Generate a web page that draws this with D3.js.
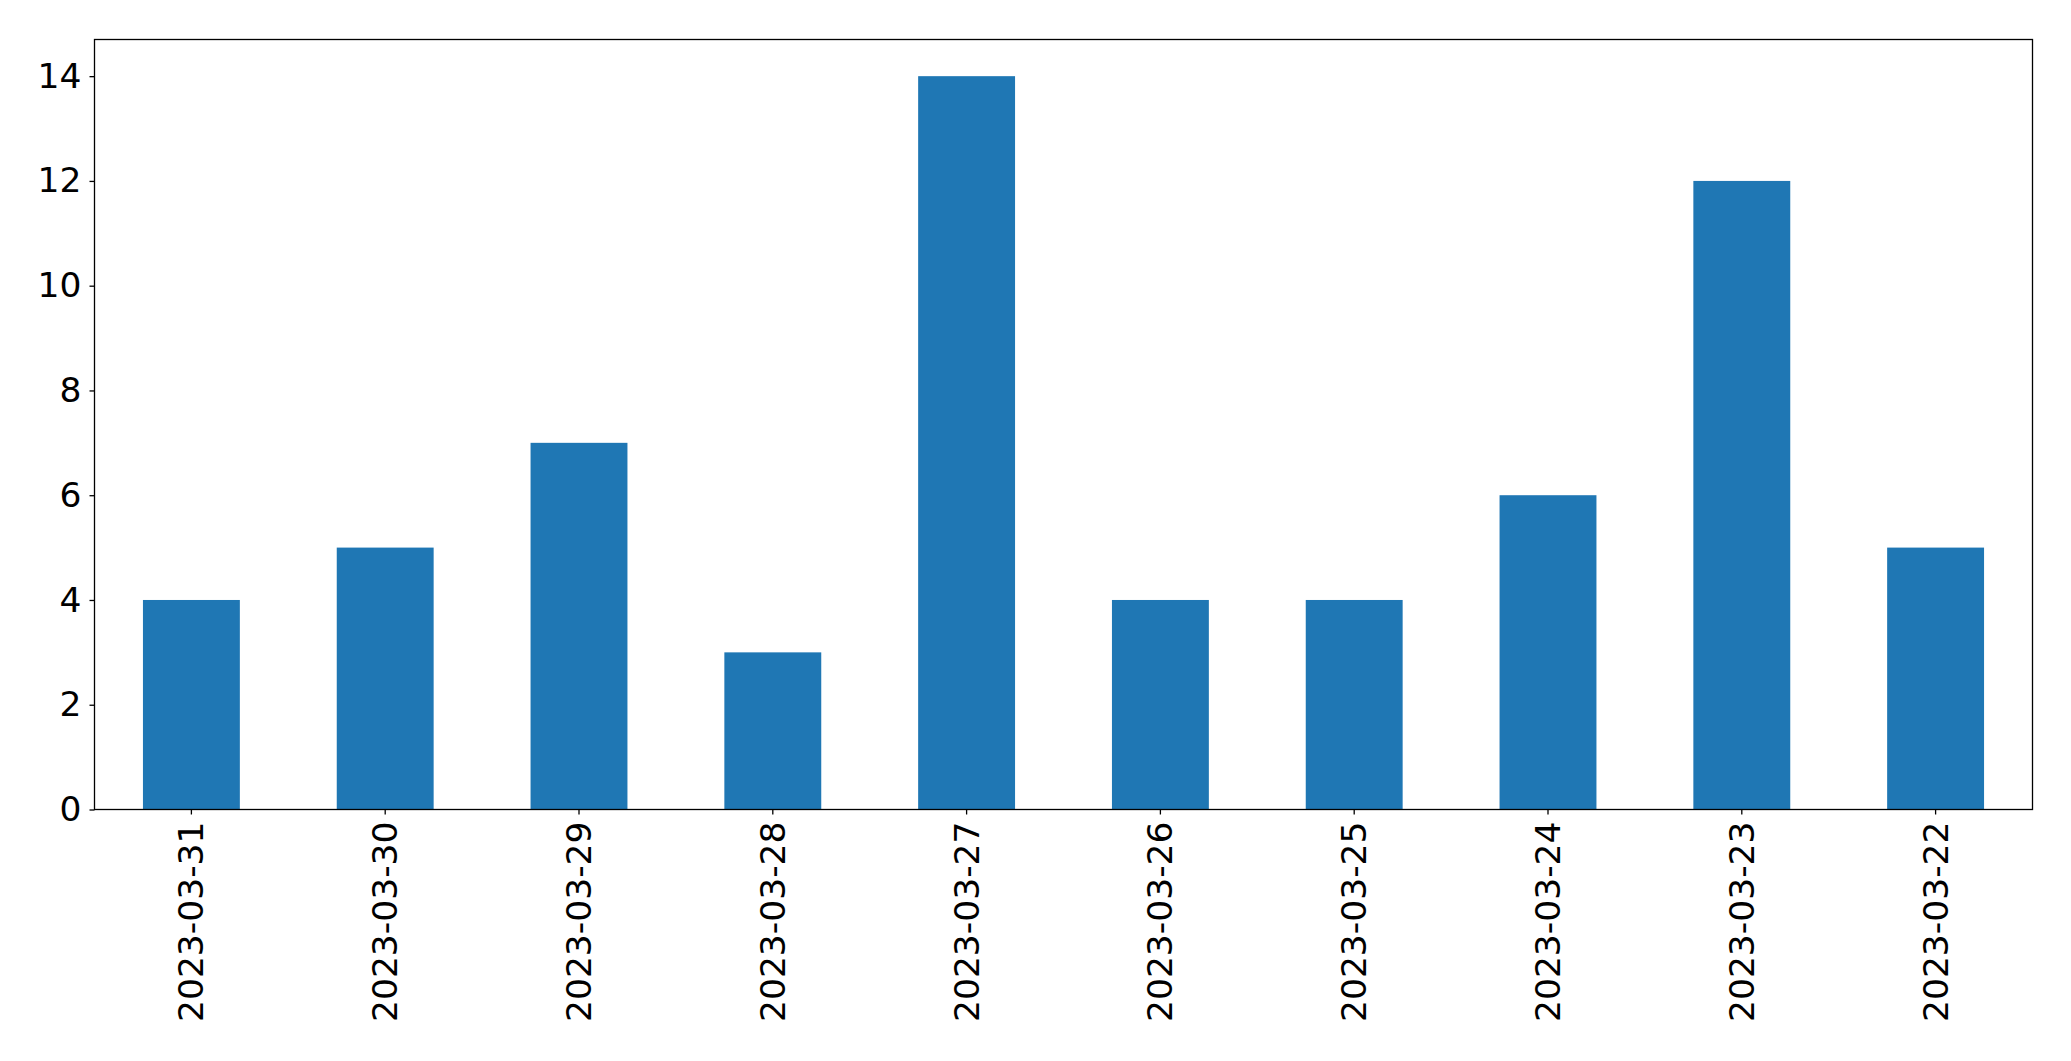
<!DOCTYPE html>
<html>
<head>
<meta charset="utf-8">
<script src="https://cdn.jsdelivr.net/npm/d3@7"></script>
<style>
    body { margin: 0; background: #fff; }
    svg { display: block; }
</style>
</head>
<body>
<script>
const categories = ['2023-03-31', '2023-03-30', '2023-03-29', '2023-03-28', '2023-03-27',
    '2023-03-26', '2023-03-25', '2023-03-24', '2023-03-23', '2023-03-22'];
const counts = [4, 5, 7, 3, 14, 4, 4, 6, 12, 5];
const yTicks = [0, 2, 4, 6, 8, 10, 12, 14];

const svgWidth = 2071;
const svgHeight = 1061;
const margin = { top: 39.5, bottom: 251.5, left: 94.5, right: 38.5 };
const width = svgWidth - margin.left - margin.right;
const height = svgHeight - margin.top - margin.bottom;
const font = 'DejaVu Sans, sans-serif';
const fontSize = '34.5px';

const svg = d3.select('body')
    .append('svg')
    .attr('width', svgWidth)
    .attr('height', svgHeight)
    .append('g')
    .attr('transform', `translate(${margin.left}, ${margin.top})`);

const x = d3.scaleBand()
    .domain(categories)
    .range([0, width])
    .paddingInner(0.5)
    .paddingOuter(0.25);

const y = d3.scaleLinear()
    .domain([0, 14.7])
    .range([height, 0]);

svg.selectAll('.bar')
    .data(counts)
    .enter()
    .append('rect')
    .attr('class', 'bar')
    .attr('x', (d, i) => x(categories[i]))
    .attr('y', d => y(d))
    .attr('width', x.bandwidth())
    .attr('height', d => height - y(d))
    .attr('fill', '#1f77b4');

// x axis
const xAxis = svg.append('g')
    .attr('transform', `translate(0,${height})`)
    .call(d3.axisBottom(x).tickSize(5).tickPadding(0));
xAxis.select('.domain').remove();
xAxis.selectAll('line').attr('stroke', '#000').attr('stroke-width', 1.3);
xAxis.selectAll('text')
    .attr('transform', 'rotate(-90)')
    .attr('x', -12)
    .attr('y', 0)
    .attr('dy', '0.35em')
    .style('text-anchor', 'end')
    .style('font-family', font)
    .style('font-size', fontSize)
    .style('fill', '#000');

// y axis
const yAxis = svg.append('g')
    .call(d3.axisLeft(y).tickValues(yTicks).tickSize(5).tickPadding(8));
yAxis.select('.domain').remove();
yAxis.selectAll('line').attr('stroke', '#000').attr('stroke-width', 1.3);
yAxis.selectAll('text')
    .style('font-family', font)
    .style('font-size', fontSize)
    .style('fill', '#000');

// frame
svg.append('rect')
    .attr('x', 0)
    .attr('y', 0)
    .attr('width', width)
    .attr('height', height)
    .attr('fill', 'none')
    .attr('stroke', '#000')
    .attr('stroke-width', 1.3);
</script>
</body>
</html>
